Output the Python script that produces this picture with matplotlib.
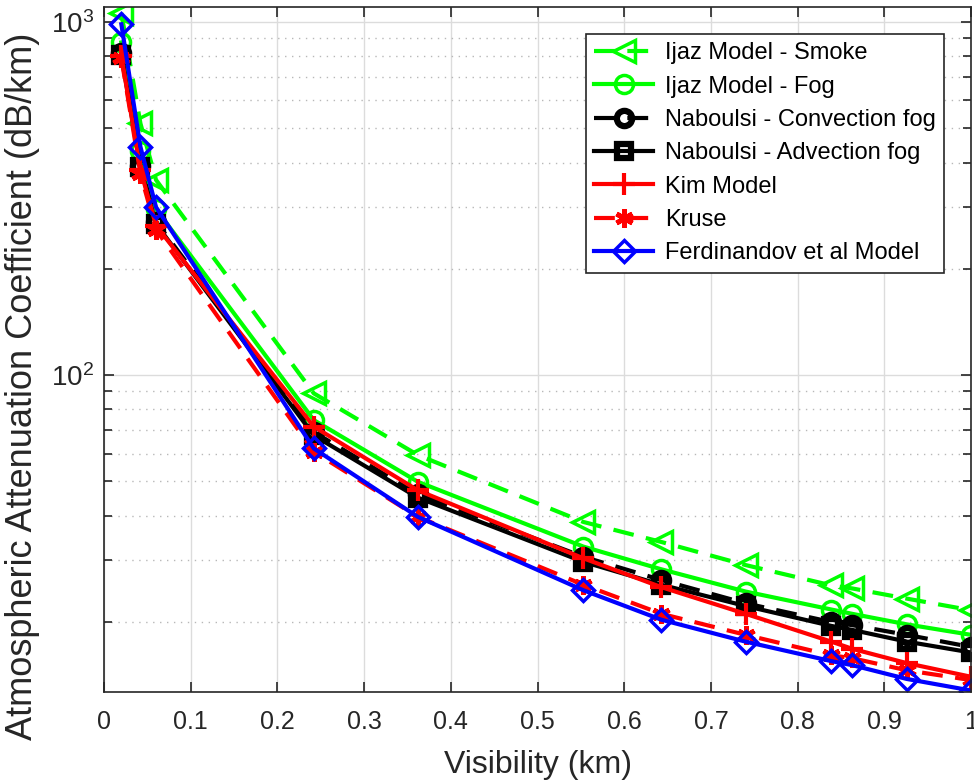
import numpy as np
import matplotlib
matplotlib.use("Agg")
import matplotlib.pyplot as plt
from matplotlib.ticker import LogLocator, NullFormatter, MultipleLocator, FormatStrFormatter

plt.rcParams['font.family'] = ['Liberation Sans', 'DejaVu Sans']

# visibility (km)
visibility = [0.02, 0.042, 0.06, 0.242, 0.362, 0.553, 0.643, 0.740, 0.839, 0.863, 0.926, 1.0]

# attenuation (dB/km)
ijaz_smoke = [1060, 516, 357, 88.8, 59.4, 38.4, 33.7, 29.0, 25.4, 24.9, 23.3, 21.6]
ijaz_fog = [875, 432, 295, 74.6, 49.9, 32.7, 28.2, 24.4, 21.7, 21.1, 19.7, 18.4]
naboulsi_conv = [815, 392, 272, 69.0, 46.0, 30.6, 26.3, 22.6, 20.0, 19.6, 18.4, 17.0]
naboulsi_adv = [805, 388, 268, 67.5, 45.0, 29.6, 25.5, 22.2, 19.5, 19.0, 17.6, 16.4]
kim = [800, 382, 265, 71.5, 47.2, 30.3, 25.1, 21.1, 17.6, 16.8, 15.3, 14.0]
kruse = [790, 372, 258, 60.7, 39.7, 25.5, 21.1, 18.4, 16.1, 15.8, 14.6, 13.7]
ferdinandov = [985, 443, 299, 62.0, 39.7, 24.6, 20.3, 17.6, 15.5, 15.1, 13.8, 12.8]

fig = plt.figure(figsize=(9.74, 7.8), dpi=100)
ax = fig.add_axes([0.1068, 0.1132, 0.8901, 0.8774])

green = (0, 1, 0)
dash = (0, (5, 3))

ax.plot(visibility, ijaz_smoke, color=green, linestyle=dash, linewidth=3,
        marker='<', markersize=16, markerfacecolor='none', markeredgewidth=2.5,
        label='Ijaz Model - Smoke')
ax.plot(visibility, ijaz_fog, color=green, linestyle='-', linewidth=3,
        marker='o', markersize=13, markerfacecolor='none', markeredgewidth=2.5,
        label='Ijaz Model - Fog')
ax.plot(visibility, naboulsi_conv, color='k', linestyle=dash, linewidth=3,
        marker='o', markersize=11, markerfacecolor='none', markeredgewidth=4.5,
        label='Naboulsi - Convection fog')
ax.plot(visibility, naboulsi_adv, color='k', linestyle='-', linewidth=3,
        marker='s', markersize=10, markerfacecolor='none', markeredgewidth=4.5,
        label='Naboulsi - Advection fog')
ax.plot(visibility, kim, color='r', linestyle='-', linewidth=3,
        marker='+', markersize=16, markeredgewidth=3,
        label='Kim Model')
ax.plot(visibility, kruse, color='r', linestyle=dash, linewidth=3,
        marker=(6, 2, 0), markersize=13, markeredgewidth=3.5,
        label='Kruse')
ax.plot(visibility, ferdinandov, color='b', linestyle='-', linewidth=3,
        marker='D', markersize=11, markerfacecolor='none', markeredgewidth=2.5,
        label='Ferdinandov et al Model')

ax.set_yscale('log')
ax.set_xlim(0, 1)
ax.set_ylim(12.7, 1100)

ax.xaxis.set_major_locator(MultipleLocator(0.1))
ax.xaxis.set_major_formatter(FormatStrFormatter('%g'))
ax.yaxis.set_major_locator(LogLocator(base=10))
ax.yaxis.set_minor_locator(LogLocator(base=10, subs=np.arange(2, 10)))
ax.yaxis.set_minor_formatter(NullFormatter())

ax.grid(True, which='major', color='#dcdcdc', linestyle='-', linewidth=1)
ax.grid(True, which='minor', axis='y', color='#b8b8b8', linestyle=(0, (1, 4)), linewidth=1)
ax.set_axisbelow(True)

ax.tick_params(which='both', direction='in', top=True, right=True,
               color='#262626', width=1.2, labelcolor='#262626')
ax.tick_params(which='major', length=7)
ax.tick_params(which='minor', length=6)
ax.tick_params(axis='x', labelsize=18, pad=13)
ax.tick_params(axis='y', labelsize=20, pad=7)
for s in ax.spines.values():
    s.set_color('#262626')
    s.set_linewidth(1.2)

ax.set_xlabel('Visibility (km)', fontsize=23, color='#262626')
ax.set_ylabel('Atmospheric Attenuation Coefficient (dB/km)', fontsize=26, color='#262626')
ax.xaxis.set_label_coords(0.5, -0.085, transform=ax.transAxes)
ax.xaxis.label.set_va('top')
ax.yaxis.set_label_coords(-0.094, 0.446, transform=ax.transAxes)
ax.yaxis.label.set_va('center')

leg = ax.legend(loc='upper right', bbox_to_anchor=(0.969, 0.961), borderaxespad=0,
                fontsize=17, handlelength=2.5, labelspacing=0.48, handletextpad=0.5,
                fancybox=False, framealpha=1, edgecolor='#262626', borderpad=0.35)
leg.get_frame().set_linewidth(1.2)

fig.savefig('out.png', dpi=100)
